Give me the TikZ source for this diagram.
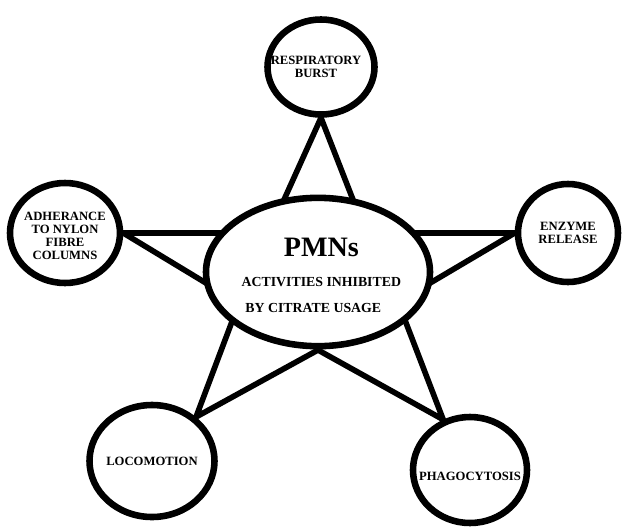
\documentclass[tikz,border=0pt]{standalone}
\usepackage{fontspec}
\setmainfont{Liberation Serif}
\usetikzlibrary{shapes.geometric,backgrounds}
\tikzset{
  act/.style={ellipse,draw,line width=5.6pt,fill=white,inner sep=0pt},
  actlabel/.style={align=center,font=\bfseries\fontsize{10.8}{11.1}\selectfont},
  corelabel/.style={align=center,font=\bfseries\fontsize{11.8}{22}\selectfont},
  starline/.style={line width=4.8pt,line join=miter}
}
\begin{document}
\begin{tikzpicture}[x=0.03cm,y=-0.03cm]
      \useasboundingbox (0,0) rectangle (622,530);
      \node (resp) at (321,67) [act,minimum width=3.21cm,minimum height=2.85cm,
        label={[actlabel,xshift=-0.15cm]center:RESPIRATORY\\BURST}] {};
      \node (adh) at (65,233) [act,minimum width=3.3cm,minimum height=3.0cm,
        label={[actlabel,yshift=-0.1cm]center:ADHERANCE\\TO NYLON\\FIBRE\\COLUMNS}] {};
      \node (enz) at (568,233) [act,minimum width=3.0cm,minimum height=2.94cm,
        label={[actlabel]center:ENZYME\\RELEASE}] {};
      \node (loco) at (152,461) [act,minimum width=3.75cm,minimum height=3.36cm,
        label={[actlabel]center:LOCOMOTION}] {};
      \node (phago) at (470,470) [act,minimum width=3.42cm,minimum height=3.18cm,
        label={[actlabel,yshift=-0.2cm]center:PHAGOCYTOSIS}] {};
      \coordinate (i1) at (366,233) ;
      \coordinate (i2) at (398,302) ;
      \coordinate (i3) at (318,350) ;
      \coordinate (i4) at (239,303) ;
      \coordinate (i5) at (269,233) ;
      \begin{scope}[on background layer]
        \draw[starline] (resp.south) -- (i1) -- (enz.west) -- (i2) -- (phago.118)
          -- (i3) -- (loco.45) -- (i4) -- (adh.east) -- (i5) -- cycle;
      \end{scope}
      \node (core) at (318,272) [act,minimum width=6.72cm,minimum height=4.45cm,
        label={[corelabel,yshift=-0.1cm,xshift=0.1cm]center:{\fontsize{24}{24}\selectfont PMNs}\\[3pt]ACTIVITIES INHIBITED\\BY CITRATE USAGE\hspace*{0.48cm}}] {};
    \end{tikzpicture}
\end{document}
